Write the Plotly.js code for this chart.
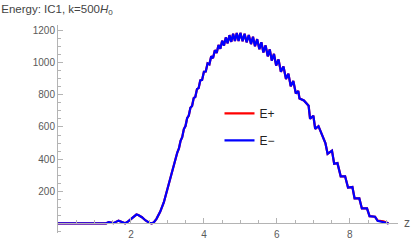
<!DOCTYPE html>
<html>
<head>
<meta charset="utf-8">
<script src="https://cdn.plot.ly/plotly-3.0.1.min.js"></script>
<style>
  html, body { margin: 0; padding: 0; background: white; }
  #plot { width: 411px; height: 243px; }
</style>
</head>
<body>
<div id="plot"></div>
<script>
// values (z, energy)
const zValues = [
  0, 0.5, 0.8, 0.9, 0.98, 1.05, 1.11, 1.18, 1.25, 1.32, 1.39, 1.52, 1.66, 1.75, 1.84,
  1.9, 2.0, 2.1, 2.15, 2.2, 2.3, 2.4, 2.5, 2.57, 2.62, 2.7, 2.8, 2.9,
  3.0, 3.045, 3.09, 3.135, 3.18, 3.225, 3.27, 3.315, 3.36, 3.405, 3.45, 3.495,
  3.54, 3.585, 3.63, 3.675, 3.72, 3.765, 3.81, 3.855, 3.9, 3.95,
  4.0, 4.05, 4.1, 4.15, 4.2, 4.25, 4.3, 4.35, 4.4, 4.45, 4.5, 4.55,
  4.6, 4.65, 4.7, 4.75, 4.8, 4.85, 4.9, 4.95,
  5.0, 5.06, 5.115, 5.17, 5.23, 5.29, 5.345, 5.4, 5.46, 5.52, 5.575, 5.63,
  5.69, 5.75, 5.805, 5.86, 5.92, 5.98,
  6.045, 6.11, 6.18, 6.25, 6.315, 6.38, 6.45, 6.52, 6.585, 6.62, 6.74, 6.87,
  6.91, 7.0, 7.05, 7.14, 7.33, 7.39, 7.51, 7.57, 7.66, 7.75, 7.87, 7.95,
  8.07, 8.13, 8.26, 8.33, 8.47, 8.54, 8.69, 8.76, 8.92, 9.06
];

const eMinus = [
  0, 0, 0.5, 0, 2, 0, 3, 0, 4, 0.5, 7, 1, 17, 9, 1,
  8, 28, 50, 55, 52, 38, 18, 4, 0, 5, 28, 72, 130,
  216, 242, 293, 318, 367, 392, 441, 466, 514, 536, 587, 606,
  655, 671, 720, 731, 780, 788, 836, 842, 890, 893,
  944, 945, 996, 990, 1040, 1029, 1078, 1061, 1110, 1087, 1137, 1107,
  1158, 1121, 1172, 1130, 1181, 1135, 1186, 1136,
  1186, 1134, 1181, 1127, 1173, 1116, 1162, 1103, 1147, 1084, 1128, 1064,
  1108, 1040, 1083, 1013, 1055, 983,
  1020, 943, 977, 899, 932, 854, 887, 808, 825, 778, 765, 732,
  651, 670, 589, 605, 500, 433, 453, 371, 375, 293, 293, 223,
  226, 155, 155, 93, 93, 45, 41, 16, 10, 0
];

const ePlus = [
  0, 0, 0.5, 0, 2, 0, 3, 0, 4, 0.5, 7, 1, 17, 9, 1,
  8, 28, 50, 55, 52, 38, 18, 4, 0, 5, 28, 72, 130,
  216, 242, 293, 318, 367, 392, 441, 466, 514, 536, 587, 606,
  655, 671, 720, 731, 780, 788, 836, 842, 890, 893,
  944, 945, 996, 990, 1040, 1029, 1078, 1061, 1110, 1087, 1137, 1107,
  1158, 1121, 1172, 1130, 1181, 1135, 1186, 1136,
  1186, 1134, 1181, 1127, 1173, 1116, 1162, 1103, 1147, 1084, 1128, 1064,
  1108, 1040, 1083, 1013, 1055, 983,
  1020, 943, 977, 899, 932, 854, 887, 808, 825, 778, 765, 732,
  651, 670, 589, 605, 500, 433, 453, 371, 375, 293, 293, 223,
  226, 155, 155, 93, 93, 45, 41, 18, 12, 0
];

const xTicks = [2, 4, 6, 8];
const yTicks = [200, 400, 600, 800, 1000, 1200];

const axisColor = '#b4b4b4';
const labelColor = '#5a5a5a';
const yRange = [-60, 1235];

const tracePlus = {
  x: zValues,
  y: ePlus,
  name: 'E+',
  legendgroup: 'p',
  mode: 'lines',
  type: 'scatter',
  line: {color: '#ff0000', width: 2.2}
};

const traceMinus = {
  x: zValues,
  y: eMinus,
  name: 'E\u2212',
  legendgroup: 'm',
  mode: 'lines',
  type: 'scatter',
  line: {color: '#0000ff', width: 2.2}
};

const layout = {
  width: 411,
  height: 243,
  margin: {l: 58, r: 13, t: 25, b: 10},
  paper_bgcolor: 'white',
  plot_bgcolor: 'white',
  font: {family: 'Liberation Sans, Arial, sans-serif', size: 10, color: labelColor},
  title: {
    text: 'Energy: IC1, k=500<i>H</i><sub>0</sub>',
    font: {size: 11.5, color: '#444444'},
    x: 0.003, xanchor: 'left', xref: 'container',
    y: 0.965, yanchor: 'middle', yref: 'container'
  },
  showlegend: true,
  legend: {
    x: 0.475, xanchor: 'left',
    y: 0.645, yanchor: 'top',
    font: {size: 12, color: '#222222'},
    tracegroupgap: 8,
    bgcolor: 'rgba(0,0,0,0)'
  },
  xaxis: {
    range: [0, 9.32],
    anchor: 'free',
    position: -yRange[0] / (yRange[1] - yRange[0]),
    showline: true, linecolor: axisColor, linewidth: 1,
    showgrid: false, zeroline: false,
    ticks: 'inside', ticklen: 5, tickcolor: axisColor,
    tickvals: xTicks,
    ticklabelstandoff: 2,
    tickfont: {size: 10, color: labelColor},
    minor: {ticks: 'inside', ticklen: 3, tickcolor: axisColor, dtick: 0.5}
  },
  yaxis: {
    range: yRange,
    showline: true, linecolor: axisColor, linewidth: 1,
    showgrid: false, zeroline: false,
    ticks: 'inside', ticklen: 5, tickcolor: axisColor,
    tickvals: yTicks,
    tickfont: {size: 10, color: labelColor},
    minor: {ticks: 'inside', ticklen: 3, tickcolor: axisColor, dtick: 50}
  },
  annotations: [{
    text: 'z',
    xref: 'paper', x: 1, xanchor: 'left', xshift: 4,
    yref: 'y', y: 0, yanchor: 'middle',
    showarrow: false,
    font: {size: 12, color: labelColor}
  }]
};

const config = {displayModeBar: false, staticPlot: true};

Plotly.newPlot('plot', [tracePlus, traceMinus], layout, config);
</script>
</body>
</html>
